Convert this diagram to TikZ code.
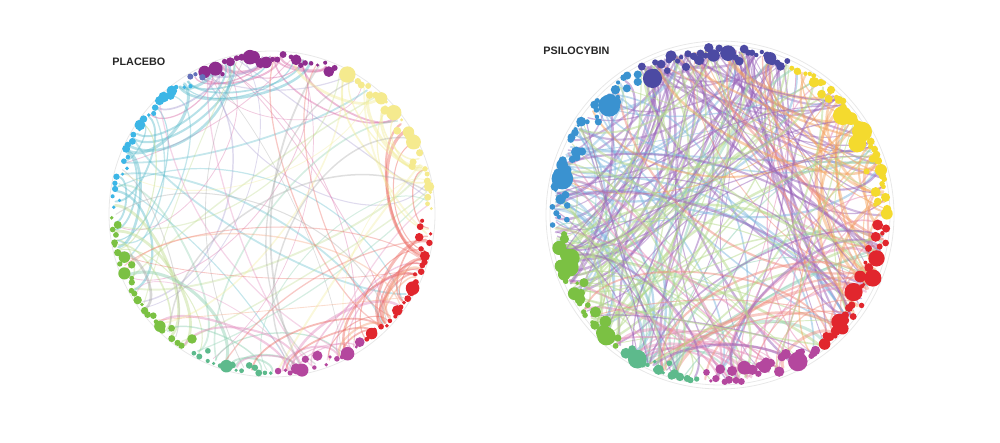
\documentclass[tikz,border=0pt]{standalone}
\usepackage{fontspec}
\setsansfont{Liberation Sans}
% dot colours
\definecolor{plPurple}{HTML}{8E2D8E}
\definecolor{plBlue}{HTML}{3CB6E6}
\definecolor{plGreen}{HTML}{7BC143}
\definecolor{plSea}{HTML}{5DBA8C}
\definecolor{plMag}{HTML}{B4479E}
\definecolor{plRed}{HTML}{E1262D}
\definecolor{plYel}{HTML}{F5EA8E}
\definecolor{psIndigo}{HTML}{4C4AA3}
\definecolor{psBlue}{HTML}{3A92D0}
\definecolor{psYel}{HTML}{F4DA2E}
% link colours
\definecolor{plPurpleE}{HTML}{D96BA6}
\definecolor{plLavE}{HTML}{A79BD0}
\definecolor{plBlueE}{HTML}{5FBCCB}
\definecolor{plGreenE}{HTML}{BEDB8F}
\definecolor{plSeaE}{HTML}{8CCFB0}
\definecolor{plMagE}{HTML}{E28DBE}
\definecolor{plRedE}{HTML}{EB6A62}
\definecolor{plYelE}{HTML}{F1EC9A}
\definecolor{plOrangeE}{HTML}{F4A27B}
\definecolor{psPurpleE}{HTML}{9A66BA}
\definecolor{psBlueE}{HTML}{7FB7DF}
\definecolor{psGreenE}{HTML}{B5D98A}
\definecolor{psSeaE}{HTML}{8FD0B5}
\definecolor{psMagE}{HTML}{E58BB8}
\definecolor{psRedE}{HTML}{F08C7E}
\definecolor{psOrangeE}{HTML}{F3A15C}
\begin{document}
\begin{tikzpicture}[x=0.5pt,y=0.5pt]
\tikzset{
    brainTitle/.style={font=\sffamily\bfseries\fontsize{5.4}{6}\selectfont,text=black!85,inner sep=0pt},
    brainLink/.style={draw=#1,draw opacity=0.36,line cap=round},
    brainBundle/.style={draw=#1,draw opacity=0.45,line cap=round},
    brainRim/.style={draw=gray!30,line width=0.4pt,draw opacity=0.6},
}
\pgfmathsetseed{2718}
\useasboundingbox (0,0) rectangle (1000,443);
\coordinate (plC) at (272,229);
\coordinate (psC) at (720,228);

\node[brainTitle,anchor=west] (plTitle) at (112,381) {PLACEBO};
\node[brainTitle,anchor=west] (psTitle) at (543,392) {PSILOCYBIN};

%% placebo
\draw[brainRim] (plC) circle[radius=163];
\foreach \sa/\sb/\ec/\nl/\nb in {66/116/plPurpleE/7/9, 100/120/plLavE/5/2, 122/178/plBlueE/7/16,
    180/238/plGreenE/5/6, 238/270/plSeaE/4/5, 272/305/plMagE/4/10,
    305/358/plRedE/5/16, 2/64/plYelE/5/8, 300/340/plOrangeE/2/3, 0/360/gray!70/8/1}{
  \foreach \e in {1,...,\nl}{
    \pgfmathsetmacro\pa{\sa+(\sb-\sa)*rnd}
    \pgfmathsetmacro\pb{\pa+50+260*rnd}
    \pgfmathsetmacro\kk{(0.45+0.3*rnd)*156*sin((\pb-\pa)/2)}
    \pgfmathsetmacro\tw{ifthenelse(rnd<0.5,-1,1)*(15+30*rnd)}
    \pgfmathsetmacro\ca{\pa+180+\tw}
    \pgfmathsetmacro\cb{\pb+180-\tw}
    \pgfmathsetmacro\lw{0.35+0.6*rnd}
    \path (plC) ++(\pa:156) coordinate (ea) (plC) ++(\pb:156) coordinate (eb);
    \draw[brainLink=\ec,line width=\lw pt] (ea) .. controls +(\ca:\kk) and +(\cb:\kk) .. (eb);
  }
  \foreach \e in {1,...,\nb}{
    \pgfmathsetmacro\pa{\sa+(\sb-\sa)*rnd}
    \pgfmathsetmacro\pb{\pa+ifthenelse(rnd<0.5,-1,1)*(14+40*rnd)}
    \pgfmathsetmacro\kk{(0.45+0.3*rnd)*156*abs(sin((\pb-\pa)/2))}
    \pgfmathsetmacro\lw{0.5+1.1*rnd}
    \pgfmathsetmacro\ca{\pa+180}
    \pgfmathsetmacro\cb{\pb+180}
    \path (plC) ++(\pa:157) coordinate (ea) (plC) ++(\pb:157) coordinate (eb);
    \draw[brainBundle=\ec,line width=\lw pt] (ea) .. controls +(\ca:\kk) and +(\cb:\kk) .. (eb);
  }
}
\foreach \sa/\sb/\dc in {66/116/plPurple, 116/121/plPurple!50!plBlue, 122/178/plBlue, 181/238/plGreen,
    240/270/plSea, 272/305/plMag, 307/358/plRed, 1/64/plYel}{
  \pgfmathtruncatemacro\nd{(\sb-\sa)/2.1}
  \foreach \k in {0,...,\nd}{
    \pgfmathsetmacro\ang{\sa+(\sb-\sa)*(\k+0.5*rnd)/(\nd+0.5)}
    \pgfmathsetmacro\sz{1.5+2.2*rnd+5.5*pow(rnd,6)}
    \pgfmathsetmacro\rr{161-0.3*\sz-12*pow(rnd,3)}
    \fill[\dc] (plC) ++(\ang:\rr) circle[radius=\sz];
  }
}

%% psilocybin
\draw[brainRim] (psC) circle[radius=174];
\draw[brainRim] (psC) circle[radius=170];
\foreach \sa/\sb/\ec/\nl/\nb in {66/118/psPurpleE/50/12, 122/184/psBlueE/20/8,
    188/232/psGreenE/30/6, 236/262/psSeaE/10/4, 266/306/psMagE/16/6,
    310/356/psRedE/10/10, 0/64/psOrangeE/8/16, 0/360/psPurpleE/26/1, 0/360/psGreenE/16/1}{
  \foreach \e in {1,...,\nl}{
    \pgfmathsetmacro\pa{\sa+(\sb-\sa)*rnd}
    \pgfmathsetmacro\pb{\pa+45+270*rnd}
    \pgfmathsetmacro\kk{(0.45+0.3*rnd)*164*sin((\pb-\pa)/2)}
    \pgfmathsetmacro\tw{ifthenelse(rnd<0.5,-1,1)*(15+30*rnd)}
    \pgfmathsetmacro\ca{\pa+180+\tw}
    \pgfmathsetmacro\cb{\pb+180-\tw}
    \pgfmathsetmacro\lw{0.4+0.9*rnd}
    \path (psC) ++(\pa:164) coordinate (ea) (psC) ++(\pb:164) coordinate (eb);
    \draw[brainLink=\ec,draw opacity=0.5,line width=\lw pt] (ea) .. controls +(\ca:\kk) and +(\cb:\kk) .. (eb);
  }
  \foreach \e in {1,...,\nb}{
    \pgfmathsetmacro\pa{\sa+(\sb-\sa)*rnd}
    \pgfmathsetmacro\pb{\pa+ifthenelse(rnd<0.5,-1,1)*(20+60*rnd)}
    \pgfmathsetmacro\kk{(0.45+0.3*rnd)*164*abs(sin((\pb-\pa)/2))}
    \pgfmathsetmacro\lw{0.5+1.1*rnd}
    \pgfmathsetmacro\ca{\pa+180}
    \pgfmathsetmacro\cb{\pb+180}
    \path (psC) ++(\pa:165) coordinate (ea) (psC) ++(\pb:165) coordinate (eb);
    \draw[brainBundle=\ec,line width=\lw pt] (ea) .. controls +(\ca:\kk) and +(\cb:\kk) .. (eb);
  }
}
\foreach \sa/\sb/\dc in {66/118/psIndigo, 120/184/psBlue, 187/232/plGreen,
    235/262/plSea, 265/306/plMag, 309/357/plRed, 0/64/psYel}{
  \pgfmathtruncatemacro\nd{(\sb-\sa)/1.5}
  \foreach \k in {0,...,\nd}{
    \pgfmathsetmacro\ang{\sa+(\sb-\sa)*(\k+0.6*rnd)/(\nd+0.6)}
    \pgfmathsetmacro\sz{1.7+2.6*rnd+7.5*pow(rnd,5)}
    \pgfmathsetmacro\rr{169-0.3*\sz-16*pow(rnd,2)}
    \fill[\dc] (psC) ++(\ang:\rr) circle[radius=\sz];
  }
}
\end{tikzpicture}
\end{document}
